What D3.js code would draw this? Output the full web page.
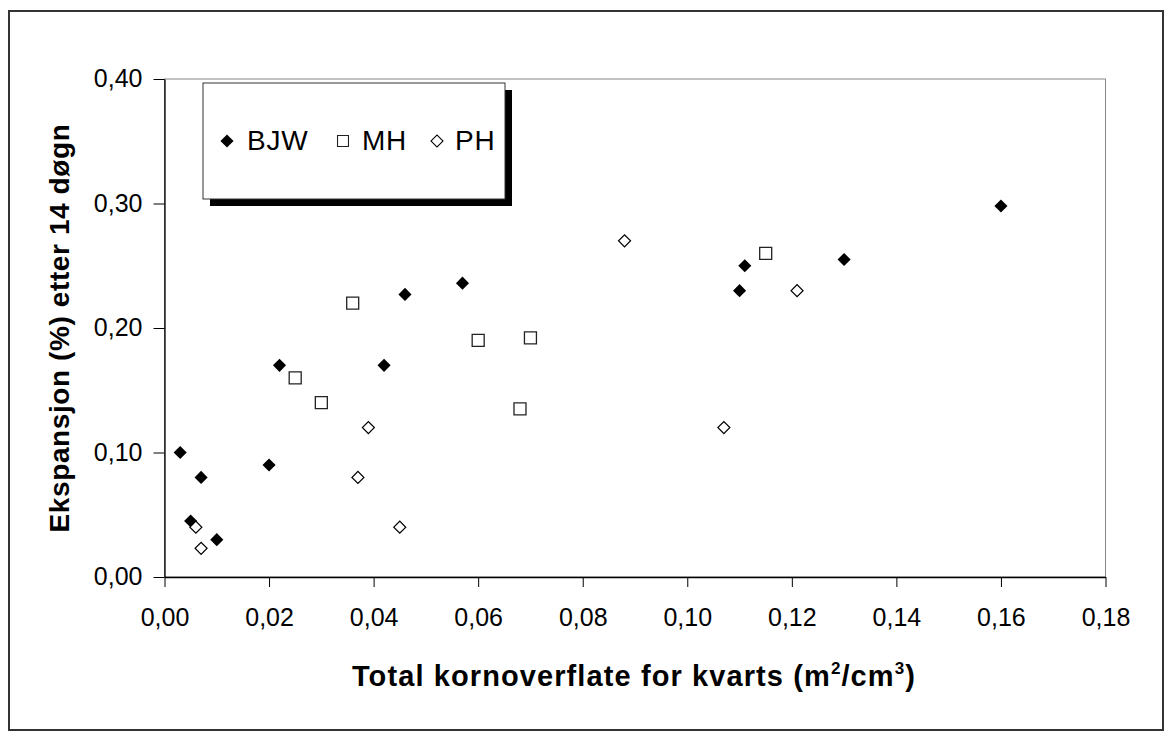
<!DOCTYPE html>
<html lang="en">
<head>
<meta charset="UTF-8" />
<script src="https://cdnjs.cloudflare.com/ajax/libs/d3/7.8.5/d3.min.js"></script>
<title>Ekspansjon</title>
<style>
body { margin: 0; background: #fff; }
text { font-family: Arial, "Liberation Sans", sans-serif; fill: #000; }
</style>
</head>
<body>
<div id="chart"></div>
<script>

// values
const bjwX = [0.003, 0.005, 0.007, 0.010, 0.020, 0.022, 0.042, 0.046, 0.057, 0.110, 0.111, 0.130, 0.160];
const bjwY = [0.100, 0.045, 0.080, 0.030, 0.090, 0.170, 0.170, 0.227, 0.236, 0.230, 0.250, 0.255, 0.298];
const mhX = [0.025, 0.030, 0.036, 0.060, 0.068, 0.070, 0.115];
const mhY = [0.160, 0.140, 0.220, 0.190, 0.135, 0.192, 0.260];
const phX = [0.006, 0.007, 0.037, 0.039, 0.045, 0.088, 0.107, 0.121];
const phY = [0.040, 0.023, 0.080, 0.120, 0.040, 0.270, 0.120, 0.230];
const xTicks = [0, 0.02, 0.04, 0.06, 0.08, 0.10, 0.12, 0.14, 0.16, 0.18];
const yTicks = [0, 0.10, 0.20, 0.30, 0.40];
const seriesNames = ['BJW', 'MH', 'PH'];

const W = 1172, H = 739;
const plot = { left: 164.5, right: 1105.5, top: 79, bottom: 577 };

const svg = d3.select('#chart').append('svg')
  .attr('width', W).attr('height', H);

// outer chart frame
svg.append('rect')
  .attr('x', 9).attr('y', 11)
  .attr('width', 1154).attr('height', 719)
  .attr('fill', '#fff')
  .attr('stroke', '#333')
  .attr('stroke-width', 2);

const x = d3.scaleLinear().domain([0, 0.18]).range([plot.left, plot.right]);
const y = d3.scaleLinear().domain([0, 0.40]).range([plot.bottom, plot.top]);

const fmt = d => d3.format('.2f')(d).replace('.', ',');

// plot area border (grey)
svg.append('rect')
  .attr('x', plot.left).attr('y', plot.top)
  .attr('width', plot.right - plot.left).attr('height', plot.bottom - plot.top)
  .attr('fill', '#fff')
  .attr('stroke', '#888')
  .attr('stroke-width', 1);

const xAxis = svg.append('g')
  .attr('transform', `translate(0,${plot.bottom})`)
  .call(d3.axisBottom(x).tickValues(xTicks).tickFormat(fmt).tickSize(10).tickSizeOuter(0).tickPadding(21));

const yAxis = svg.append('g')
  .attr('transform', `translate(${plot.left},0)`)
  .call(d3.axisLeft(y).tickValues(yTicks).tickFormat(fmt).tickSize(11).tickSizeOuter(0).tickPadding(11));

[xAxis, yAxis].forEach(a => {
  a.selectAll('.domain').attr('stroke', '#000').attr('stroke-width', 1.3);
  a.selectAll('.tick line').attr('stroke', '#000');
  a.selectAll('.tick text')
    .style('font-family', 'Arial, "Liberation Sans", sans-serif')
    .style('font-size', '25px')
    .attr('fill', '#000');
});
xAxis.selectAll('.tick text').attr('dy', '0.71em');
yAxis.selectAll('.tick text').attr('dy', '0.3em');

// axis titles
const xTitle = svg.append('text')
  .attr('x', 634)
  .attr('y', 686)
  .attr('text-anchor', 'middle')
  .style('font-size', '29px')
  .style('font-weight', 'bold')
  .style('letter-spacing', '1.1px');
xTitle.append('tspan').text('Total kornoverflate for kvarts (m');
xTitle.append('tspan').attr('dy', -12).style('font-size', '17px').text('2');
xTitle.append('tspan').attr('dy', 12).text('/cm');
xTitle.append('tspan').attr('dy', -12).style('font-size', '17px').text('3');
xTitle.append('tspan').attr('dy', 12).text(')');

svg.append('text')
  .attr('transform', `translate(69,${(plot.top + plot.bottom) / 2}) rotate(-90)`)
  .attr('text-anchor', 'middle')
  .style('font-size', '28px')
  .style('font-weight', 'bold')
  .style('letter-spacing', '0.6px')
  .text('Ekspansjon (%) etter 14 døgn');

// markers
const diamondFilled = d3.symbol().type(d3.symbolSquare).size(86)();
const diamondOpen = d3.symbol().type(d3.symbolSquare).size(72)();
const square = d3.symbol().type(d3.symbolSquare).size(144)();

const marks = svg.append('g');

marks.selectAll('.bjw').data(d3.range(bjwX.length)).join('path')
  .attr('class', 'bjw')
  .attr('d', diamondFilled)
  .attr('transform', i => `translate(${x(bjwX[i])},${y(bjwY[i])}) rotate(45)`)
  .attr('fill', '#000');

marks.selectAll('.mh').data(d3.range(mhX.length)).join('path')
  .attr('class', 'mh')
  .attr('d', square)
  .attr('transform', i => `translate(${x(mhX[i])},${y(mhY[i])})`)
  .attr('fill', '#fff')
  .attr('stroke', '#222')
  .attr('stroke-width', 1.3);

marks.selectAll('.ph').data(d3.range(phX.length)).join('path')
  .attr('class', 'ph')
  .attr('d', diamondOpen)
  .attr('transform', i => `translate(${x(phX[i])},${y(phY[i])}) rotate(45)`)
  .attr('fill', '#fff')
  .attr('stroke', '#000')
  .attr('stroke-width', 1.2);

// legend with drop shadow
const lg = svg.append('g').attr('transform', 'translate(203,83)');
lg.append('rect')
  .attr('x', 7).attr('y', 7).attr('width', 302).attr('height', 116)
  .attr('fill', '#000');
lg.append('rect')
  .attr('x', 0).attr('y', 0).attr('width', 302).attr('height', 116)
  .attr('fill', '#fff').attr('stroke', '#333').attr('stroke-width', 1);

const legendItems = [
  { name: seriesNames[0], sx: 24, tx: 44, path: diamondFilled, rot: 45, fill: '#000', stroke: 'none' },
  { name: seriesNames[1], sx: 140, tx: 159, path: d3.symbol().type(d3.symbolSquare).size(120)(), rot: 0, fill: '#fff', stroke: '#222' },
  { name: seriesNames[2], sx: 234, tx: 252, path: diamondOpen, rot: 45, fill: '#fff', stroke: '#000' }
];
legendItems.forEach(it => {
  lg.append('path')
    .attr('d', it.path)
    .attr('transform', `translate(${it.sx},58) rotate(${it.rot})`)
    .attr('fill', it.fill)
    .attr('stroke', it.stroke)
    .attr('stroke-width', 1.1);
  lg.append('text')
    .attr('x', it.tx).attr('y', 67)
    .style('font-size', '28px')
    .style('letter-spacing', '0.8px')
    .text(it.name);
});

</script>
</body>
</html>
